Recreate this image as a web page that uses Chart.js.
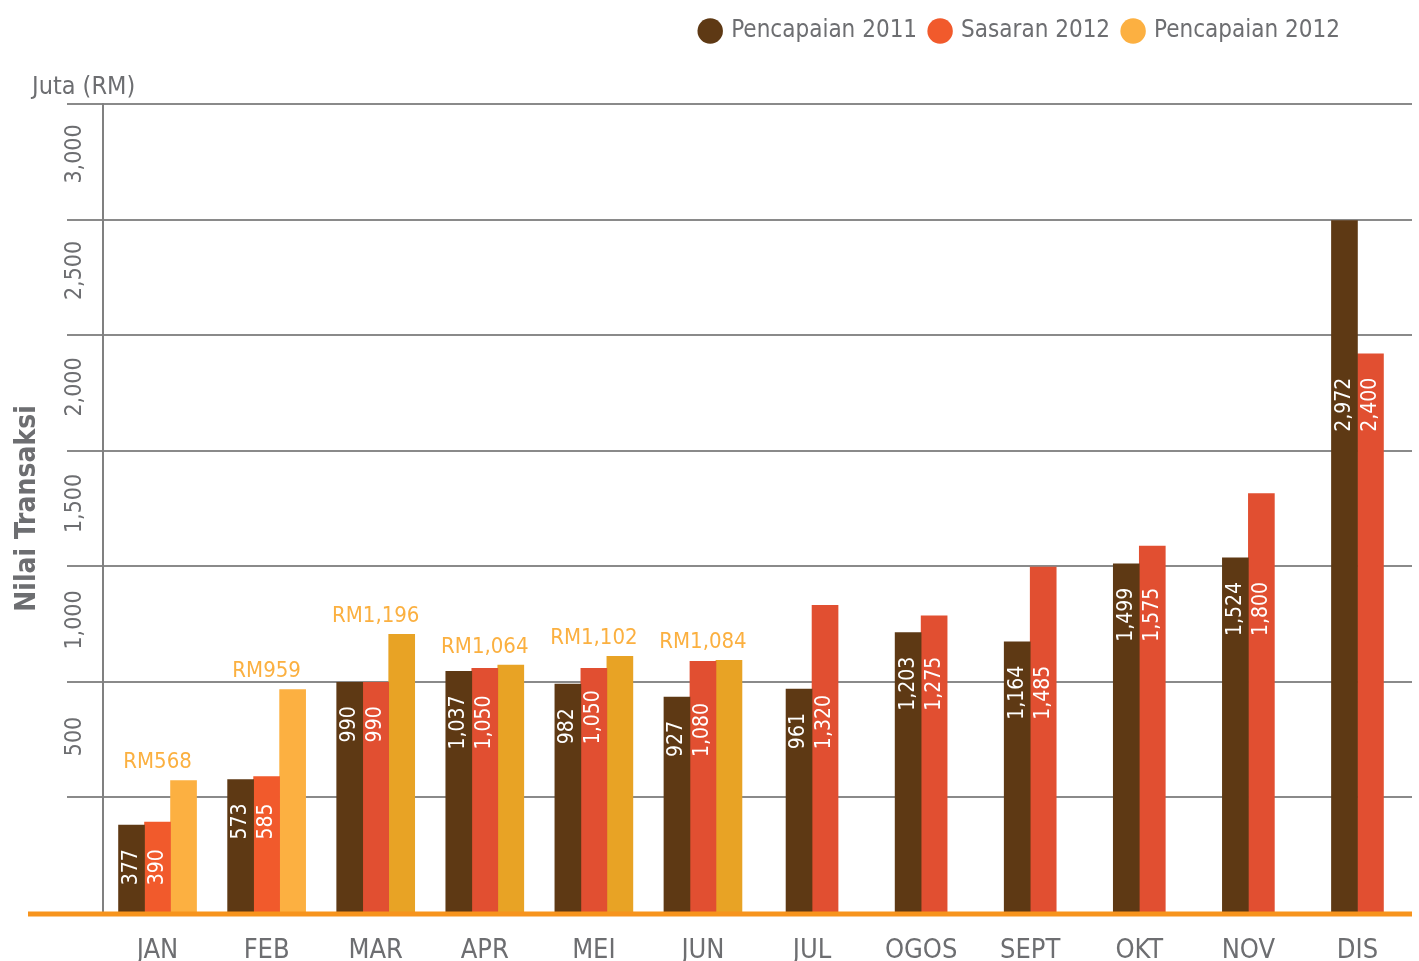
<!DOCTYPE html>
<html>
<head>
<meta charset="utf-8">
<script src="https://cdn.jsdelivr.net/npm/chart.js@4.4.1/dist/chart.umd.min.js"></script>
<style>
  html, body { margin: 0; padding: 0; background: #fff; }
  #wrap { width: 1419px; height: 961px; }
</style>
</head>
<body>
<div id="wrap"><canvas id="transChart"></canvas></div>
<script>
// data
const months = ['JAN', 'FEB', 'MAR', 'APR', 'MEI', 'JUN', 'JUL', 'OGOS', 'SEPT', 'OKT', 'NOV', 'DIS'];
const achieved2011 = [377, 573, 990, 1037, 982, 927, 961, 1203, 1164, 1499, 1524, 2972];
const target2012 = [390, 585, 990, 1050, 1050, 1080, 1320, 1275, 1485, 1575, 1800, 2400];
const achieved2012 = [568, 959, 1196, 1064, 1102, 1084, null, null, null, null, null, null];
const yTicks = [500, 1000, 1500, 2000, 2500, 3000];

const FONT = "'Liberation Sans Narrow', 'DejaVu Sans Condensed', 'Roboto', sans-serif";
const GREY = '#6d6e71';
const fmt = v => v.toLocaleString('en-US');

Chart.defaults.font.family = FONT;
Chart.defaults.color = GREY;

// vertical text helper
function upText(ctx, text, x, y, align) {
  ctx.save();
  ctx.translate(x, y);
  ctx.rotate(-Math.PI / 2);
  ctx.textAlign = align;
  ctx.textBaseline = 'middle';
  ctx.fillText(text, 0, 0);
  ctx.restore();
}

// value labels, y tick labels (they sit half a step above their grid line) and the base line
const barLabels = {
  id: 'barLabels',
  afterLayout(chart) {
    // legend ends well short of the right edge in the original
    chart.legend.right -= 58;
  },
  afterDatasetsDraw(chart) {
    const ctx = chart.ctx;
    const area = chart.chartArea;
    const yScale = chart.scales.y;
    const m0 = chart.getDatasetMeta(0);
    const m1 = chart.getDatasetMeta(1);
    const m2 = chart.getDatasetMeta(2);

    ctx.save();
    ctx.font = '21px ' + FONT;
    ctx.fillStyle = '#ffffff';
    months.forEach((m, i) => {
      const b0 = m0.data[i], b1 = m1.data[i];
      const lowTop = Math.max(b0.y, b1.y);
      const shortVal = b0.y >= b1.y ? achieved2011[i] : target2012[i];
      const startY = lowTop + 24 + ctx.measureText(fmt(shortVal)).width;
      upText(ctx, fmt(achieved2011[i]), b0.x, startY, 'left');
      upText(ctx, fmt(target2012[i]), b1.x, startY, 'left');
    });

    ctx.font = '22px ' + FONT;
    ctx.fillStyle = '#fbb040';
    ctx.textAlign = 'center';
    ctx.textBaseline = 'bottom';
    achieved2012.forEach((v, i) => {
      if (v == null) return;
      ctx.fillText('RM' + fmt(v), m1.data[i].x, m2.data[i].y - 7);
    });

    ctx.font = '23px ' + FONT;
    ctx.fillStyle = GREY;
    yTicks.forEach(v => {
      upText(ctx, fmt(v), area.left - 28, yScale.getPixelForValue(v) - 60, 'center');
    });

    const y0 = yScale.getPixelForValue(0);
    ctx.strokeStyle = '#f7941d';
    ctx.lineWidth = 5;
    ctx.beginPath();
    ctx.moveTo(area.left - 75, y0 + 1);
    ctx.lineTo(area.right, y0 + 1);
    ctx.stroke();
    ctx.restore();
  }
};

new Chart(document.getElementById('transChart'), {
  type: 'bar',
  data: {
    labels: months,
    datasets: [
      {
        label: 'Pencapaian 2011',
        data: achieved2011,
        backgroundColor: '#5e3914'
      },
      {
        label: 'Sasaran 2012',
        data: target2012,
        backgroundColor: c => c.dataIndex < 2 ? '#f15a2c' : '#e14f31'
      },
      {
        label: 'Pencapaian 2012',
        data: achieved2012,
        backgroundColor: c => c.dataIndex < 2 ? '#fcb041' : '#e8a325'
      }
    ]
  },
  options: {
    responsive: true,
    maintainAspectRatio: false,
    animation: false,
    layout: { padding: { left: 32, right: 7, top: 5, bottom: 0 } },
    datasets: {
      bar: { barThickness: 26, skipNull: true, borderWidth: 0 }
    },
    plugins: {
      tooltip: { enabled: false },
      legend: {
        position: 'top',
        align: 'end',
        weight: 1000,
        labels: {
          usePointStyle: true,
          pointStyle: 'circle',
          boxWidth: 18,
          boxHeight: 18,
          padding: 14,
          color: GREY,
          font: { size: 24 }
        }
      },
      title: {
        display: true,
        text: 'Juta (RM)',
        align: 'start',
        position: 'top',
        weight: 500,
        color: GREY,
        font: { size: 25, weight: 'normal' },
        padding: { top: 19, bottom: 2 }
      }
    },
    scales: {
      x: {
        grid: { display: false },
        border: { display: false },
        ticks: { color: GREY, font: { size: 27 }, padding: 14 },
        afterFit: s => { s.height = 48; }
      },
      y: {
        min: 0,
        max: 3472,
        title: {
          display: true,
          text: 'Nilai Transaksi',
          color: GREY,
          font: { size: 28, weight: 'bold' },
          padding: { top: -21, bottom: 0 }
        },
        grid: { color: '#8a8a8a', lineWidth: 2, tickLength: 36, tickColor: '#8a8a8a' },
        border: { display: true, color: '#808080', width: 2 },
        ticks: { display: false, stepSize: 500 },
        afterFit: s => { s.width = 71; }
      }
    }
  },
  plugins: [barLabels]
});
</script>
</body>
</html>
